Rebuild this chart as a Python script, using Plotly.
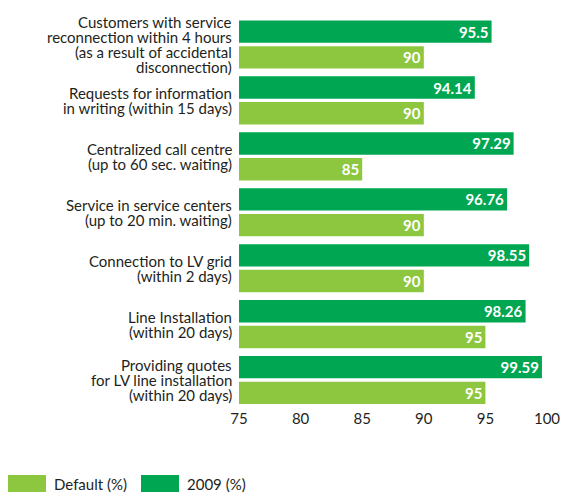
import plotly.graph_objects as go

categories = [
    "Customers with service<br>reconnection within 4 hours<br>(as a result of accidental<br>disconnection)",
    "Requests for information<br>in writing (within 15 days)",
    "Centralized call centre<br>(up to 60 sec. waiting)",
    "Service in service centers<br>(up to 20 min. waiting)",
    "Connection to LV grid<br>(within 2 days)",
    "Line Installation<br>(within 20 days)",
    "Providing quotes<br>for LV line installation<br>(within 20 days)",
]
values_2009 = [95.5, 94.14, 97.29, 96.76, 98.55, 98.26, 99.59]
values_default = [90, 90, 85, 90, 90, 95, 95]
labels_2009 = ["95.5", "94.14", "97.29", "96.76", "98.55", "98.26", "99.59"]
labels_default = ["90", "90", "85", "90", "90", "95", "95"]
tick_vals = [75, 80, 85, 90, 95, 100]

DARK = "#00A651"
LIGHT = "#8DC63F"
FONT = "Lato"
TXT = "#231F20"
FS = 15

fig = go.Figure()
fig.add_trace(go.Bar(
    y=categories, x=values_2009, orientation="h", name="2009 (%)",
    marker=dict(color=DARK, line=dict(width=0)),
    text=labels_2009, textposition="inside", insidetextanchor="end", textangle=0,
    textfont=dict(family=FONT, size=FS, color="white", weight="bold"),
))
fig.add_trace(go.Bar(
    y=categories, x=values_default, orientation="h", name="Default (%)",
    marker=dict(color=LIGHT, line=dict(width=0)),
    text=labels_default, textposition="inside", insidetextanchor="end", textangle=0,
    textfont=dict(family=FONT, size=FS, color="white", weight="bold"),
))

fig.update_layout(
    width=561, height=493,
    margin=dict(l=239, r=14, t=12, b=85, autoexpand=False),
    barmode="group", bargap=0.08, bargroupgap=0.13,
    paper_bgcolor="white", plot_bgcolor="white",
    showlegend=False,
    font=dict(family=FONT, size=FS, color=TXT),
    uniformtext=dict(minsize=FS, mode="show"),
    xaxis=dict(range=[75, 100], tickvals=tick_vals, showgrid=False, zeroline=False,
               showline=False, ticks="", automargin=False,
               tickfont=dict(size=FS, color=TXT)),
    yaxis=dict(autorange="reversed", showgrid=False, showline=False, ticks="",
               showticklabels=False, automargin=False),
)

# category labels with tight line spacing (as in the reference)
LINE_H = 15
for cat in categories:
    lines = cat.split("<br>")
    n = len(lines)
    for k, line in enumerate(lines):
        fig.add_annotation(xref="paper", yref="y", x=0, y=cat, text=line,
                           showarrow=False, xanchor="right", yanchor="middle",
                           xshift=-6, yshift=((n - 1) / 2 - k) * LINE_H,
                           borderpad=0,
                           font=dict(family=FONT, size=FS, color=TXT))

# custom legend (wide swatches)
legend_items = [("Default (%)", LIGHT, 8), ("2009 (%)", DARK, 141)]
for name, color, px in legend_items:
    x0 = (px - 239) / 308
    x1 = (px + 38 - 239) / 308
    fig.add_shape(type="rect", xref="paper", yref="paper",
                  x0=x0, x1=x1, y0=(408 - 492) / 396, y1=(408 - 475) / 396,
                  fillcolor=color, line=dict(width=0))
    fig.add_annotation(xref="paper", yref="paper", x=(px + 44 - 239) / 308,
                       y=(408 - 483.5) / 396, text=name, showarrow=False,
                       xanchor="left", yanchor="middle",
                       font=dict(family=FONT, size=FS, color=TXT))

fig.write_html("out.html", config={"displayModeBar": False},
               post_script="document.body.style.margin='0px';")
